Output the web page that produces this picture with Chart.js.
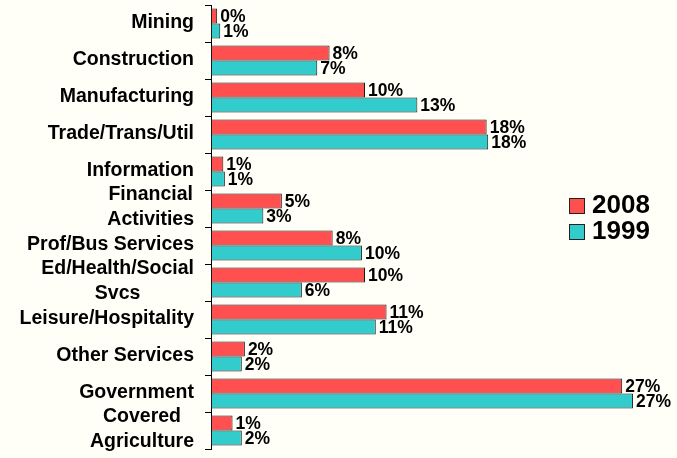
<!DOCTYPE html>
<html>
<head>
<meta charset="utf-8">
<script src="https://cdn.jsdelivr.net/npm/chart.js@4"></script>
<style>
  html, body { margin: 0; padding: 0; background: #fffff7; }
  #wrap { width: 677px; height: 458px; }
</style>
</head>
<body>
<div id="wrap"><canvas id="chart"></canvas></div>
<script>
// Employment share by industry, 2008 vs 1999
const categories = [
    ['Mining'], ['Construction'], ['Manufacturing'], ['Trade/Trans/Util'],
    ['Information'], ['Financial', 'Activities'], ['Prof/Bus Services'],
    ['Ed/Health/Social', 'Svcs'], ['Leisure/Hospitality'], ['Other Services'],
    ['Government'], ['Covered', 'Agriculture']
];
const share2008 = [0.4, 7.7, 10.0, 17.9, 0.8, 4.6, 7.9, 10.0, 11.4, 2.2, 26.7, 1.4];
const share1999 = [0.6, 6.9, 13.4, 18.0, 0.9, 3.4, 9.8, 5.9, 10.7, 2.0, 27.4, 2.0];
const seriesNames = ['2008', '1999'];
const seriesColors = ['#ff4f4f', '#33cccc'];

const FONT = '"Liberation Sans", Arial, sans-serif';

// category labels: block right aligned, lines centred inside the block
const categoryLabels = {
    id: 'categoryLabels',
    afterDraw(chart) {
        const ctx = chart.ctx;
        const y = chart.scales.y;
        const rightX = y.right - 17;
        ctx.save();
        ctx.font = 'bold 19.5px ' + FONT;
        ctx.fillStyle = '#000';
        ctx.textAlign = 'center';
        ctx.textBaseline = 'middle';
        categories.forEach((lines, i) => {
            const cy = y.getPixelForTick(i) - 1;
            const w = Math.max(...lines.map(l => ctx.measureText(l).width));
            const cx = rightX - w / 2;
            const lh = 25;
            lines.forEach((l, j) => {
                ctx.fillText(l, cx, cy + (j - (lines.length - 1) / 2) * lh);
            });
        });
        ctx.restore();
    }
};

// value labels at the end of each bar
const valueLabels = {
    id: 'valueLabels',
    afterDatasetsDraw(chart) {
        const ctx = chart.ctx;
        ctx.save();
        ctx.font = 'bold 17.5px ' + FONT;
        ctx.fillStyle = '#000';
        ctx.textAlign = 'left';
        ctx.textBaseline = 'middle';
        chart.data.datasets.forEach((ds, di) => {
            chart.getDatasetMeta(di).data.forEach((bar, i) => {
                ctx.fillText(Math.round(ds.data[i]) + '%', bar.x + 3, bar.y + 1);
            });
        });
        ctx.restore();
    }
};

// legend on the right side
const sideLegend = {
    id: 'sideLegend',
    afterDraw(chart) {
        const ctx = chart.ctx;
        ctx.save();
        ctx.font = 'bold 26px ' + FONT;
        ctx.textBaseline = 'middle';
        ctx.textAlign = 'left';
        chart.data.datasets.forEach((ds, i) => {
            const top = 198 + i * 26;
            ctx.fillStyle = ds.backgroundColor;
            ctx.fillRect(569, top, 16, 16);
            ctx.strokeStyle = '#222';
            ctx.lineWidth = 1;
            ctx.strokeRect(569.5, top + 0.5, 15, 15);
            ctx.fillStyle = '#000';
            ctx.fillText(ds.label, 592, top + 8);
        });
        ctx.restore();
    }
};

const ctx = document.getElementById('chart').getContext('2d');
new Chart(ctx, {
    type: 'bar',
    data: {
        labels: categories,
        datasets: [
            { label: seriesNames[0], data: share2008, backgroundColor: seriesColors[0] },
            { label: seriesNames[1], data: share1999, backgroundColor: seriesColors[1] }
        ]
    },
    options: {
        indexAxis: 'y',
        responsive: true,
        maintainAspectRatio: false,
        animation: false,
        layout: { padding: { top: 5, bottom: 9, right: 4, left: 0 } },
        datasets: {
            bar: {
                categoryPercentage: 0.81,
                barPercentage: 1.0,
                borderWidth: 1,
                borderColor: '#1a1a1a',
                borderSkipped: false
            }
        },
        plugins: {
            legend: { display: false },
            tooltip: { enabled: false }
        },
        scales: {
            x: { display: false, min: 0, max: 30 },
            y: {
                afterFit: (scale) => { scale.width = 211; },
                border: { display: true, color: '#000', width: 1 },
                grid: { drawOnChartArea: false, drawTicks: true, tickLength: 6, color: '#000', offset: true },
                ticks: { display: false }
            }
        }
    },
    plugins: [categoryLabels, valueLabels, sideLegend]
});
</script>
</body>
</html>
